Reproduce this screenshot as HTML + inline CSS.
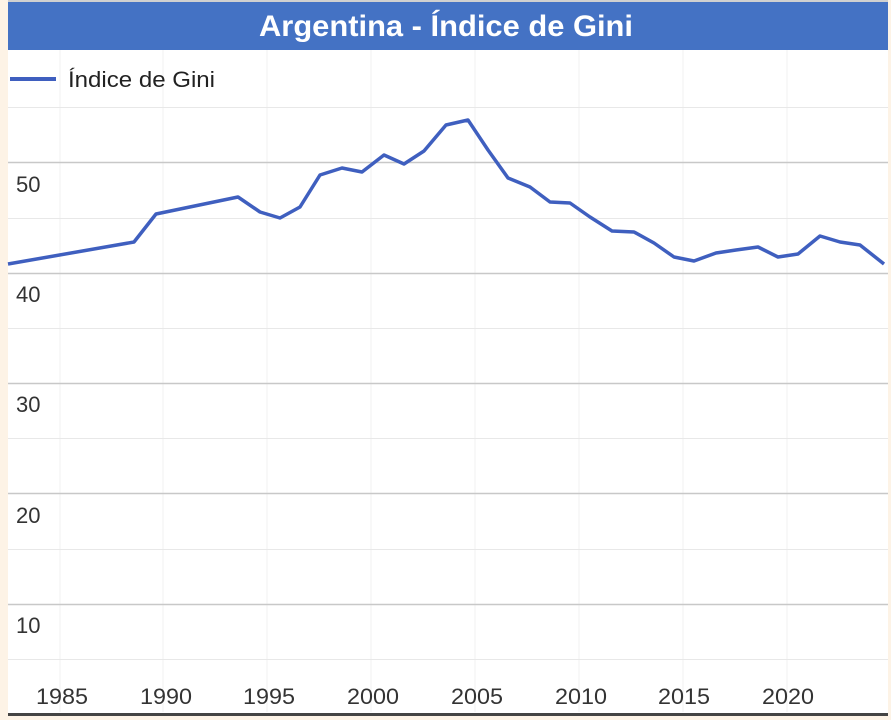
<!DOCTYPE html>
<html><head><meta charset="utf-8"><style>
body{margin:0;background:#fdf3e6;width:891px;height:720px;overflow:hidden;font-family:"Liberation Sans",sans-serif}
</style></head><body>
<svg width="891" height="720" style="position:absolute;left:0;top:0">
<rect x="8" y="0" width="880" height="715" fill="#fff"/>
<rect x="8" y="0" width="880" height="2" fill="#d0d0d0"/>
<rect x="8" y="2" width="880" height="48" fill="#4472c4"/>
<text x="446" y="36" text-anchor="middle" font-size="30" font-weight="bold" fill="#fff" font-family="Liberation Sans, sans-serif" textLength="374" lengthAdjust="spacingAndGlyphs">Argentina - Índice de Gini</text>
<g stroke="#f0f0f0" stroke-width="1">
<line x1="60" y1="50" x2="60" y2="712"/><line x1="163" y1="50" x2="163" y2="712"/><line x1="267" y1="50" x2="267" y2="712"/><line x1="371" y1="50" x2="371" y2="712"/><line x1="475" y1="50" x2="475" y2="712"/><line x1="579" y1="50" x2="579" y2="712"/><line x1="683" y1="50" x2="683" y2="712"/><line x1="787" y1="50" x2="787" y2="712"/>
</g>
<g stroke="#e8e8e8" stroke-width="1">
<line x1="8" y1="107.5" x2="888" y2="107.5"/><line x1="8" y1="218.5" x2="888" y2="218.5"/><line x1="8" y1="328.5" x2="888" y2="328.5"/><line x1="8" y1="438.5" x2="888" y2="438.5"/><line x1="8" y1="549.5" x2="888" y2="549.5"/><line x1="8" y1="659.5" x2="888" y2="659.5"/>
</g>
<g stroke="#c8c8c8" stroke-width="1.5">
<line x1="8" y1="162.5" x2="888" y2="162.5"/><line x1="8" y1="273.5" x2="888" y2="273.5"/><line x1="8" y1="383.5" x2="888" y2="383.5"/><line x1="8" y1="493.5" x2="888" y2="493.5"/><line x1="8" y1="604.5" x2="888" y2="604.5"/>
</g>
<g font-size="22" fill="#333" font-family="Liberation Sans, sans-serif">
<text x="16" y="192">50</text><text x="16" y="302">40</text><text x="16" y="412">30</text><text x="16" y="523">20</text><text x="16" y="633">10</text>
</g>
<g font-size="22" fill="#333" text-anchor="middle" font-family="Liberation Sans, sans-serif">
<text x="62" y="704" textLength="52" lengthAdjust="spacingAndGlyphs">1985</text><text x="166" y="704" textLength="52" lengthAdjust="spacingAndGlyphs">1990</text><text x="269" y="704" textLength="52" lengthAdjust="spacingAndGlyphs">1995</text><text x="373" y="704" textLength="52" lengthAdjust="spacingAndGlyphs">2000</text><text x="477" y="704" textLength="52" lengthAdjust="spacingAndGlyphs">2005</text><text x="581" y="704" textLength="52" lengthAdjust="spacingAndGlyphs">2010</text><text x="684" y="704" textLength="52" lengthAdjust="spacingAndGlyphs">2015</text><text x="788" y="704" textLength="52" lengthAdjust="spacingAndGlyphs">2020</text>
</g>
<line x1="10" y1="79" x2="56" y2="79" stroke="#3f5fbf" stroke-width="4"/>
<text x="68" y="87" font-size="22" fill="#222" font-family="Liberation Sans, sans-serif" textLength="147" lengthAdjust="spacingAndGlyphs">Índice de Gini</text>
<polyline fill="none" stroke="#3f5fbf" stroke-width="3.5" stroke-linejoin="round" points="8,264 134,242 156,214 238,197 260,212 280,218 300,207 320,175 342,168 362,172 384,155 404,164 424,151 446,125 468,120 488,150 508,178 530,187 550,202 570,203 590,217 612,231 634,232 654,243 674,257 694,261 716,253 736,250 758,247 778,257 798,254 820,236 840,242 860,245 884,264"/>
<rect x="8" y="713" width="880" height="3" fill="#444"/>
</svg>
</body></html>
